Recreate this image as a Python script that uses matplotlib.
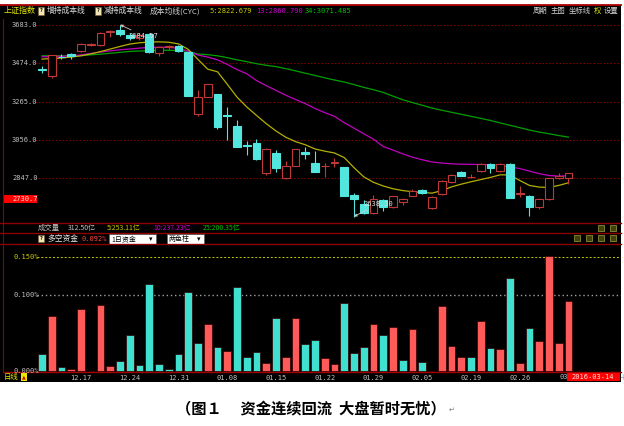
import matplotlib
matplotlib.use('Agg')
import matplotlib.pyplot as plt
from matplotlib.patches import Rectangle
from matplotlib.lines import Line2D
import numpy as np

plt.rcParams['font.family'] = ['Noto Sans CJK SC', 'DejaVu Sans']

# ---- data ----
dates = ['12.11', '12.14', '12.15', '12.16', '12.17', '12.18', '12.21', '12.22', '12.23', '12.24',
         '12.25', '12.28', '12.29', '12.30', '12.31', '01.04', '01.05', '01.06', '01.07', '01.08',
         '01.11', '01.12', '01.13', '01.14', '01.15', '01.18', '01.19', '01.20', '01.21', '01.22',
         '01.25', '01.26', '01.27', '01.28', '01.29', '02.01', '02.02', '02.03', '02.04', '02.05',
         '02.15', '02.16', '02.17', '02.18', '02.19', '02.22', '02.23', '02.24', '02.25', '02.26',
         '02.29', '03.01', '03.02', '03.03', '03.04']
opens = [3442, 3403, 3511, 3527, 3540, 3574, 3573, 3645, 3655, 3631,
         3614, 3635, 3528, 3565, 3570, 3536, 3198, 3292, 3309, 3194,
         3132, 3027, 3038, 2874, 2987, 2847, 2914, 2989, 2932, 2912,
         2930, 2907, 2756, 2706, 2656, 2730, 2690, 2719, 2752, 2783,
         2683, 2761, 2829, 2880, 2853, 2888, 2925, 2888, 2927, 2762,
         2752, 2689, 2734, 2847, 2847]
highs = [3458, 3521, 3527, 3532, 3583, 3586, 3647, 3657, 3684.57, 3640,
         3638, 3641, 3565, 3573, 3576, 3538, 3328, 3362, 3309, 3237,
         3166, 3052, 3060, 3011, 3001, 2943, 3008, 3016, 2996, 2932,
         2956, 2907, 2768, 2730, 2756, 2736, 2750, 2740, 2791, 2789,
         2750, 2838, 2868, 2885, 2868, 2933, 2933, 2933, 2929, 2804,
         2755, 2742, 2849, 2878, 2876]
lows = [3421, 3392, 3495, 3500, 3534, 3568, 3570, 3616, 3625, 3600,
        3601, 3533, 3515, 3548, 3538, 3295, 3189, 3288, 3115, 3056,
        3016, 2974, 2949, 2867, 2883, 2844, 2914, 2952, 2880, 2852,
        2910, 2748, 2638.3, 2652, 2650, 2670, 2685, 2700, 2748, 2762,
        2682, 2755, 2822, 2858, 2846, 2880, 2875, 2880, 2737, 2745,
        2641, 2680, 2730, 2845, 2815]
closes = [3436, 3521, 3510, 3516, 3580, 3579, 3642, 3652, 3636, 3612,
          3628, 3534, 3564, 3570, 3539, 3296, 3288, 3362, 3125, 3186,
          3017, 3023, 2950, 3007, 2902, 2914, 3007, 2977, 2881, 2916,
          2934, 2750, 2736, 2656, 2733, 2692, 2750, 2733, 2779, 2765,
          2747, 2834, 2865, 2861, 2856, 2925, 2905, 2925, 2741, 2767,
          2689, 2732, 2847, 2859, 2874]

cyc5 = [3497, 3500, 3503, 3508, 3515, 3525, 3538, 3552, 3566, 3579,
        3586, 3590, 3591, 3589, 3580, 3550, 3495, 3442, 3428, 3360,
        3290, 3236, 3190, 3145, 3105, 3071, 3047, 3030, 3007, 2995,
        2985, 2960, 2905, 2855, 2825, 2805, 2790, 2780, 2774, 2770,
        2766, 2780, 2800, 2815, 2828, 2840, 2852, 2866, 2865, 2835,
        2808, 2799, 2797, 2808, 2822.679]
cyc13 = [3510, 3510, 3512, 3515, 3520, 3528, 3535, 3542, 3548, 3552,
         3557, 3561, 3562, 3561, 3556, 3540, 3519, 3508, 3493, 3468,
         3440, 3417, 3380, 3352, 3326, 3300, 3277, 3254, 3228, 3205,
         3185, 3150, 3120, 3090, 3060, 3020, 3001, 2980, 2962, 2948,
         2936, 2930, 2926, 2924, 2923, 2922, 2921, 2916, 2910, 2900,
         2886, 2872, 2862, 2859, 2860.790]
cyc34 = [3515, 3515, 3515, 3515, 3516, 3520, 3524, 3529, 3534, 3539,
         3541, 3543, 3545, 3545, 3544, 3540, 3525, 3521, 3515, 3505,
         3493, 3483, 3472, 3463, 3456, 3445, 3433, 3420, 3408, 3395,
         3383, 3372, 3358, 3343, 3330, 3315, 3295, 3275, 3260, 3245,
         3230, 3218, 3207, 3196, 3185, 3174, 3162, 3149, 3136, 3123,
         3110, 3099, 3090, 3080, 3071.485]

fund = [0.022, 0.073, 0.005, 0.003, 0.082, 0.0, 0.087, 0.007, 0.013, 0.047,
        0.0075, 0.114, 0.0096, 0.002, 0.023, 0.1036, 0.037, 0.062, 0.032, 0.026,
        0.111, 0.018, 0.025, 0.010, 0.070, 0.018, 0.070, 0.035, 0.041, 0.017,
        0.009, 0.089, 0.024, 0.032, 0.062, 0.047, 0.058, 0.015, 0.055, 0.012,
        0.0005, 0.085, 0.033, 0.018, 0.018, 0.066, 0.030, 0.029, 0.123, 0.011,
        0.057, 0.039, 0.151, 0.037, 0.092]
fund_side = ['c', 'r', 'c', 'r', 'r', 'r', 'r', 'r', 'c', 'c',
             'c', 'c', 'c', 'c', 'c', 'c', 'c', 'r', 'c', 'r',
             'c', 'c', 'c', 'r', 'c', 'r', 'r', 'c', 'c', 'r',
             'r', 'c', 'c', 'c', 'r', 'c', 'r', 'c', 'r', 'c',
             'c', 'r', 'r', 'r', 'c', 'r', 'c', 'r', 'c', 'r',
             'c', 'r', 'r', 'r', 'r']

price_ticks = [3683.0, 3474.0, 3265.0, 3056.0, 2847.0]
date_ticks = ['12.17', '12.24', '12.31', '01.08', '01.15', '01.22', '01.29',
              '02.05', '02.19', '02.26']
fund_ticks = [0.15, 0.10, 0.0]

# ---- helpers (pixel -> figure fraction) ----
W, H = 624, 426
def fx(p): return p / W
def fy(p): return 1 - p / H

RED_LINE = '#8c0000'
CYAN = '#52e6de'
RED = '#c03838'
GRAY = '#c0c0c0'
MONO = 'DejaVu Sans Mono'

fig = plt.figure(figsize=(6.24, 4.26), dpi=100, facecolor='white')
fig.add_artist(Rectangle((0, fy(382)), fx(621), (382 - 5) / H, transform=fig.transFigure,
                         facecolor='black', edgecolor='none', zorder=-1))

def hline(py, x0=0, x1=621, color=RED_LINE, lw=1.0):
    fig.add_artist(Line2D([fx(x0), fx(x1)], [fy(py), fy(py)], color=color, lw=lw,
                          transform=fig.transFigure))

def ftext(px, py, s, color=GRAY, size=5.6, **kw):
    fig.text(fx(px), fy(py), s, color=color, fontsize=size, va='center', ha='left', **kw)

def icon(px, py, w=6, h=7, face='#f0e6b4'):
    fig.add_artist(Rectangle((fx(px), fy(py + h / 2)), w / W, h / H, transform=fig.transFigure,
                             facecolor=face, edgecolor='#806040', lw=0.4))
    fig.text(fx(px + w / 2), fy(py), '?', color='black', fontsize=4, ha='center', va='center',
             weight='bold')

# frame lines
hline(5, 0, 621, color='#b00000', lw=1.3)
hline(223)
hline(233)
hline(244)
fig.add_artist(Line2D([fx(3), fx(3)], [fy(19), fy(372)], color=RED_LINE, lw=0.8,
                      transform=fig.transFigure))

xlim = ((4 - 42) / 9.75, (621 - 42) / 9.75)
x = np.arange(len(dates))
o = np.array(opens, float); c = np.array(closes, float)
hi = np.array(highs, float); lo = np.array(lows, float)
up = c >= o

# ---- price panel ----
ax = fig.add_axes([fx(4), fy(223), 617 / W, (223 - 19) / H])
ax.set_facecolor('none')
ax.set_xlim(*xlim)
ax.set_ylim(2603.2, 3715.7)
ax.axis('off')

for p in price_ticks:
    ax.axhline(p, xmin=(35 - 4) / 617, xmax=1, color=RED_LINE, ls=(0, (1.5, 2)), lw=0.7, zorder=0)
    ax.text((12 - 4) / 617, p, f'{p:.1f}', transform=ax.get_yaxis_transform(), color=GRAY,
            fontsize=5, family=MONO, va='center', ha='left')

ax.plot(x, cyc34, color='#00a000', lw=0.9, zorder=1)
ax.plot(x, cyc13, color='#c000c0', lw=0.9, zorder=1)
ax.plot(x, cyc5, color='#b4b000', lw=0.9, zorder=1)

wick_col = [RED if u else CYAN for u in up]
ax.vlines(x, lo, hi, colors=wick_col, lw=0.8, zorder=2)
ax.bar(x, np.abs(c - o), bottom=np.minimum(o, c), width=0.8,
       facecolor=['black' if u else CYAN for u in up],
       edgecolor=wick_col, lw=0.8, zorder=3)

ih = int(np.argmax(hi)); il = int(np.argmin(lo))
ax.annotate(f'{hi[ih]:.2f}', xy=(ih, hi[ih]), xytext=(ih + 0.85, 3625), color='#e0e0e0',
            fontsize=5, family=MONO, va='center', ha='left', zorder=5,
            arrowprops=dict(arrowstyle='-|>', color='#c8c8c8', lw=0.6, mutation_scale=4,
                            shrinkA=0, shrinkB=0))
ax.annotate(f'{lo[il]:.2f}', xy=(il, lo[il]), xytext=(il + 0.95, 2707), color='#e0e0e0',
            fontsize=5, family=MONO, va='center', ha='left', zorder=5,
            arrowprops=dict(arrowstyle='-|>', color='#c8c8c8', lw=0.6, mutation_scale=4,
                            shrinkA=0, shrinkB=0))

# current price marker on the axis
fig.add_artist(Rectangle((fx(3), fy(203)), 34 / W, 8 / H, transform=fig.transFigure,
                         facecolor='#ff0000', edgecolor='none'))
ftext(12, 199, '2730.7', color='#ffd8d8', size=5, family=MONO)

# ---- header row ----
ftext(4, 11, '上证指数', color='#e8e800', size=5.8)
icon(38, 11)
ftext(47, 11, '增持成本线', color='#e0e0e0', size=5.6)
icon(95, 11)
ftext(104, 11, '减持成本线', color='#e0e0e0', size=5.6)
ftext(150, 11, '成本均线(CYC)', color='#d0d0d0', size=5.6)
ftext(209, 11, f'5:{cyc5[-1]:.3f}', color='#c8c800', size=5, family=MONO)
ftext(256, 11, f'13:{cyc13[-1]:.3f}', color='#d000d0', size=5, family=MONO)
ftext(305, 11, f'34:{cyc34[-1]:.3f}', color='#00c000', size=5, family=MONO)
for px, s, col in [(533, '周期', '#d0d0d0'), (551, '主图', '#d0d0d0'), (569, '坐标线', '#d0d0d0'),
                   (594, '权', '#e0e000'), (604, '设置', '#d0d0d0')]:
    ftext(px, 11, s, color=col, size=5.3)

# ---- volume / fund header rows ----
ftext(38, 228, '成交量', color=GRAY, size=5.3)
ftext(68, 228, '312.50亿', color=GRAY, size=5)
ftext(107, 228, '5:253.11亿', color='#c8c800', size=5)
ftext(153, 228, '10:237.23亿', color='#d000d0', size=5)
ftext(203, 228, '25:200.35亿', color='#00c000', size=5)
icon(38, 239)
ftext(47, 239, '多空资金', color='#e8e8e8', size=5.6)
ftext(82, 239, f'{fund[-1]:.3f}%', color='#ff4040', size=5, family=MONO)
for bx0, bx1, s in [(109, 156, '1日资金'), (167, 204, '两色柱')]:
    fig.add_artist(Rectangle((fx(bx0), fy(244)), (bx1 - bx0) / W, 10 / H, transform=fig.transFigure,
                             facecolor='white', edgecolor='#606060', lw=0.5))
    ftext(bx0 + 2, 239, s, color='black', size=5)
    ftext(bx1 - 7, 239, '▾', color='black', size=5, family='DejaVu Sans')
for px, py in [(598, 228), (610, 228), (574, 238), (586, 238), (598, 238), (610, 238)]:
    fig.add_artist(Rectangle((fx(px), fy(py + 3)), 6 / W, 6 / H, transform=fig.transFigure,
                             facecolor='#404010', edgecolor='#a0a040', lw=0.5))

# ---- fund bar panel ----
ax2 = fig.add_axes([fx(4), fy(372), 617 / W, (372 - 246) / H])
ax2.set_facecolor('none')
ax2.set_xlim(*xlim)
ax2.set_ylim((371 - 372) / 760, (371 - 246) / 760)
for s in ['top', 'left', 'right']:
    ax2.spines[s].set_visible(False)
ax2.spines['bottom'].set_color('#a00000')
ax2.spines['bottom'].set_linewidth(1.0)
ax2.set_yticks([])
ax2.set_xticks([dates.index(d) for d in date_ticks])
ax2.set_xticklabels(date_ticks, color=GRAY, fontsize=5, family=MONO)
ax2.tick_params(axis='x', length=0, pad=2.2)

ax2.bar(x, fund, width=0.8, color=['#ff5a5a' if s == 'r' else '#40e0d0' for s in fund_side],
        edgecolor='#300000', lw=0.5, zorder=2)
ax2.axhline(fund_ticks[0], xmin=(37 - 4) / 617, color='#c8c800', ls=(0, (2, 2)), lw=0.7, zorder=1)
ax2.axhline(fund_ticks[1], xmin=(37 - 4) / 617, color='#a0a0a0', ls=(0, (1, 2)), lw=1.0, zorder=1)
for v, col in zip(fund_ticks, ['#c8c800', GRAY, GRAY]):
    ax2.text((13 - 4) / 617, v, f'{v:.3f}%', transform=ax2.get_yaxis_transform(), color=col,
             fontsize=5, family=MONO, va='center', ha='left', zorder=3)

# bottom strip
ftext(4, 377, '日线', color='#e8e800', size=5.3)
fig.add_artist(Rectangle((fx(21), fy(381)), 6 / W, 8 / H, transform=fig.transFigure,
                         facecolor='#e8e800', edgecolor='none'))
ftext(21.5, 377, '▲', color='#d00000', size=3.5, family='DejaVu Sans')
ftext(559, 377, '03', color=GRAY, size=5, family=MONO)
fig.add_artist(Rectangle((fx(567), fy(381)), 53 / W, 8 / H, transform=fig.transFigure,
                         facecolor='#ff0000', edgecolor='none', zorder=5))
fig.text(fx(593), fy(377), '2016-03-14', color='#ffe0e0', fontsize=5, family=MONO,
         ha='center', va='center', zorder=6)
ftext(619, 377, '+', color='#a0a0a0', size=5.5, family='DejaVu Sans')

# caption
fig.text(fx(311), fy(408), '（图１　 资金连续回流  大盘暂时无忧）', color='black', fontsize=11,
         weight='bold', ha='center', va='center')
ftext(449, 410, '↵', color='#808080', size=5)

fig.savefig('out.png', dpi=100, facecolor='white')
